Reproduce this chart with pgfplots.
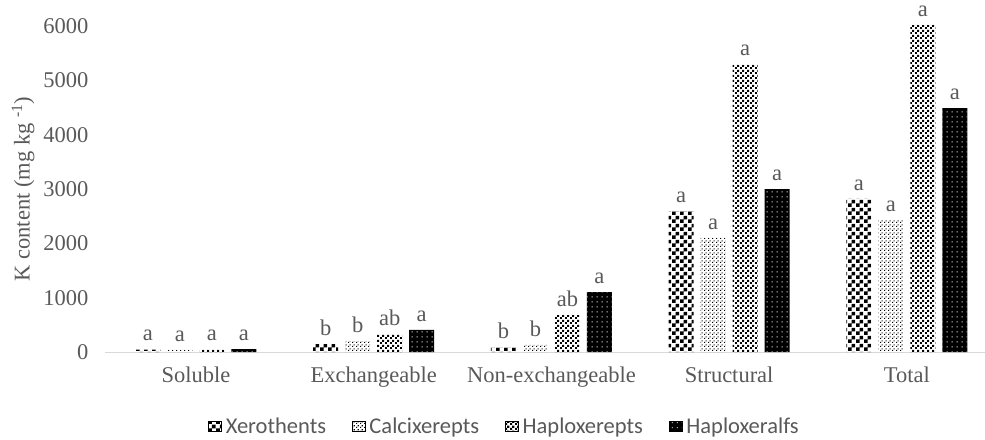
\documentclass[border=0pt]{standalone}
\usepackage{fontspec}
\setmainfont{Liberation Serif}
\newfontfamily\legfont{Carlito}
\usepackage{pgfplots}
\pgfplotsset{compat=1.18}
\usetikzlibrary{patterns}

\definecolor{txtgray}{HTML}{595959}
\definecolor{axgray}{HTML}{D9D9D9}

% bar fills
\pgfdeclarepatternformonly{checker}{\pgfpointorigin}{\pgfqpoint{8pt}{8pt}}{\pgfqpoint{8pt}{8pt}}{%
  \pgfpathrectangle{\pgfpointorigin}{\pgfqpoint{4pt}{4pt}}%
  \pgfpathrectangle{\pgfqpoint{4pt}{4pt}}{\pgfqpoint{4pt}{4pt}}%
  \pgfusepath{fill}}
\pgfdeclarepatternformonly{finedots}{\pgfpointorigin}{\pgfqpoint{4pt}{4pt}}{\pgfqpoint{4pt}{4pt}}{%
  \pgfpathrectangle{\pgfpointorigin}{\pgfqpoint{1.3pt}{1.3pt}}%
  \pgfpathrectangle{\pgfqpoint{2pt}{2pt}}{\pgfqpoint{1.3pt}{1.3pt}}%
  \pgfusepath{fill}}
\pgfdeclarepatternformonly{bigdots}{\pgfpointorigin}{\pgfqpoint{5pt}{5pt}}{\pgfqpoint{5pt}{5pt}}{%
  \pgfpathrectangle{\pgfpointorigin}{\pgfqpoint{2.3pt}{2.3pt}}%
  \pgfpathrectangle{\pgfqpoint{2.5pt}{2.5pt}}{\pgfqpoint{2.3pt}{2.3pt}}%
  \pgfusepath{fill}}
\pgfdeclarepatternformonly{smalldots}{\pgfpointorigin}{\pgfqpoint{5pt}{5pt}}{\pgfqpoint{5pt}{5pt}}{%
  \pgfpathrectangle{\pgfqpoint{2pt}{2pt}}{\pgfqpoint{1.1pt}{1.1pt}}%
  \pgfusepath{fill}}

\begin{document}
\begin{tikzpicture}
\begin{axis}[
    at={(105pt,87pt)}, anchor=south west,
    scale only axis, width=880pt, height=326pt,
    ybar=7pt, bar width=25pt,
    xmin=-0.512, xmax=4.44, ymin=0, ymax=6000,
    xtick={0,1,2,3,4},
    xticklabels={Soluble,Exchangeable,Non-exchangeable,Structural,Total},
    ytick={0,1000,...,6000},
    axis x line*=bottom, axis y line*=left,
    y axis line style={draw=none},
    x axis line style={draw=axgray, line width=1pt},
    major tick length=0pt,
    tick label style={font=\fontsize{22.5}{26}\selectfont, text=txtgray},
    xticklabel style={yshift=-11pt},
    yticklabel style={xshift=-13pt},
    /pgf/number format/assume math mode=true,
    /pgf/number format/1000 sep={},
    scaled y ticks=false,
    clip=false,
    ylabel={K content (mg kg \textsuperscript{-1})},
    ylabel style={at={(axis description cs:-0.093,0.5)}, anchor=center,
      font=\fontsize{22.5}{26}\selectfont, text=txtgray},
    nodes near coords, point meta=explicit symbolic,
    every node near coord/.append style={font=\fontsize{22.5}{26}\selectfont, text=txtgray, yshift=5pt},
    legend style={at={(0.454,-0.228)}, anchor=center, legend columns=4, draw=none,
      font=\legfont\fontsize{22.5}{26}\selectfont, text=txtgray,
      /tikz/every odd column/.append style={column sep=2pt},
      /tikz/every even column/.append style={column sep=24pt}},
    leg/.style={legend image code/.code={\draw[##1] (0pt,-5pt) rectangle (13pt,5pt);}},
]
\addplot[leg, draw=none, pattern=checker, pattern color=black]
  coordinates {(0,45) [a] (1,150) [b] (2,80) [b] (3,2590) [a] (4,2820) [a]};
\addplot[leg, draw=none, pattern=finedots, pattern color=black]
  coordinates {(0,40) [a] (1,200) [b] (2,130) [b] (3,2100) [a] (4,2430) [a]};
\addplot[leg, draw=none, pattern=bigdots, pattern color=black]
  coordinates {(0,50) [a] (1,330) [ab] (2,680) [ab] (3,5290) [a] (4,6020) [a]};
\addplot[leg, draw=none, fill=black, postaction={pattern=smalldots, pattern color=white}]
  coordinates {(0,55) [a] (1,405) [a] (2,1100) [a] (3,3000) [a] (4,4490) [a]};
\legend{Xerothents, Calcixerepts, Haploxerepts, Haploxeralfs}
\end{axis}
\pgfresetboundingbox
\path[use as bounding box] (0,0) rectangle (985pt,439pt);
\end{tikzpicture}
\end{document}
